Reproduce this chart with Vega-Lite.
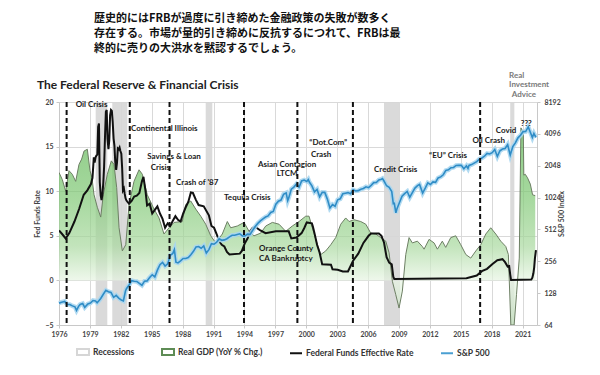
{
  "$schema": "https://vega.github.io/schema/vega-lite/v6.json",
  "background": "white",
  "padding": {"left": 33, "top": 12, "right": 5, "bottom": 5},
  "title": {
    "text": ["歴史的にはFRBが過度に引き締めた金融政策の失敗が数多く", "存在する。市場が量的引き締めに反抗するにつれて、FRBは最", "終的に売りの大洪水を黙認するでしょう。"],
    "anchor": "start", "frame": "group", "dx": 35, "offset": 18,
    "font": "Noto Sans CJK JP", "fontSize": 11, "fontWeight": "bold", "lineHeight": 15, "color": "#111111"
  },
  "datasets": {
    "rec": [{"t": 1979.56, "t2": 1980.69}, {"t": 1981.17, "t2": 1982.63}, {"t": 1990.24, "t2": 1990.88}, {"t": 2007.55, "t2": 2009.01}, {"t": 2019.8, "t2": 2020.2}],
    "crises": [{"t": 1976.74}, {"t": 1982.87}, {"t": 1986.73}, {"t": 1993.96}, {"t": 1999.14}, {"t": 2004.53}, {"t": 2016.88}],
    "gdp": [
      {"t": 1976.0, "v": 12.1}, {"t": 1976.32, "v": 11.3}, {"t": 1976.65, "v": 10.0}, {"t": 1976.97, "v": 12.3}, {"t": 1977.29, "v": 11.9}, {"t": 1977.62, "v": 11.1}, {"t": 1977.94, "v": 13.0}, {"t": 1978.2, "v": 13.6}, {"t": 1978.43, "v": 14.5}, {"t": 1978.75, "v": 14.7}, {"t": 1979.01, "v": 12.3}, {"t": 1979.2, "v": 11.5}, {"t": 1979.4, "v": 9.6}, {"t": 1979.72, "v": 8.2}, {"t": 1980.05, "v": 7.1}, {"t": 1980.3, "v": 9.6}, {"t": 1980.69, "v": 11.9}, {"t": 1981.08, "v": 13.4}, {"t": 1981.34, "v": 13.0}, {"t": 1981.6, "v": 10.4}, {"t": 1981.83, "v": 5.9}, {"t": 1982.15, "v": 3.3}, {"t": 1982.48, "v": 4.0}, {"t": 1982.8, "v": 8.5}, {"t": 1983.28, "v": 11.1}, {"t": 1983.77, "v": 12.4}, {"t": 1984.09, "v": 11.9}, {"t": 1984.57, "v": 9.6}, {"t": 1985.22, "v": 8.0}, {"t": 1985.71, "v": 7.0}, {"t": 1986.19, "v": 5.2}, {"t": 1986.68, "v": 5.9}, {"t": 1987.17, "v": 6.5}, {"t": 1987.97, "v": 6.6}, {"t": 1988.3, "v": 8.5}, {"t": 1988.79, "v": 8.9}, {"t": 1989.27, "v": 8.0}, {"t": 1989.76, "v": 7.2}, {"t": 1990.24, "v": 6.3}, {"t": 1990.73, "v": 5.0}, {"t": 1991.21, "v": 4.2}, {"t": 1991.85, "v": 5.2}, {"t": 1992.34, "v": 6.6}, {"t": 1992.67, "v": 5.9}, {"t": 1993.31, "v": 6.1}, {"t": 1993.96, "v": 6.5}, {"t": 1994.45, "v": 5.5}, {"t": 1994.93, "v": 5.0}, {"t": 1995.58, "v": 5.3}, {"t": 1996.07, "v": 6.1}, {"t": 1996.71, "v": 6.5}, {"t": 1997.36, "v": 6.3}, {"t": 1998.01, "v": 5.5}, {"t": 1998.65, "v": 6.1}, {"t": 1999.3, "v": 6.6}, {"t": 1999.95, "v": 7.2}, {"t": 2000.27, "v": 7.2}, {"t": 2000.59, "v": 5.9}, {"t": 2001.08, "v": 4.0}, {"t": 2001.41, "v": 2.9}, {"t": 2001.89, "v": 3.3}, {"t": 2002.38, "v": 4.0}, {"t": 2002.86, "v": 4.8}, {"t": 2003.35, "v": 6.3}, {"t": 2003.83, "v": 7.0}, {"t": 2004.16, "v": 6.6}, {"t": 2004.64, "v": 6.8}, {"t": 2005.29, "v": 6.6}, {"t": 2005.78, "v": 6.3}, {"t": 2006.26, "v": 5.3}, {"t": 2006.75, "v": 5.2}, {"t": 2007.23, "v": 4.8}, {"t": 2007.72, "v": 4.4}, {"t": 2008.04, "v": 3.1}, {"t": 2008.36, "v": -0.1}, {"t": 2008.69, "v": -1.6}, {"t": 2009.01, "v": -3.1}, {"t": 2009.33, "v": -1.2}, {"t": 2009.66, "v": 2.9}, {"t": 2009.98, "v": 4.8}, {"t": 2010.3, "v": 4.2}, {"t": 2010.79, "v": 4.4}, {"t": 2011.27, "v": 3.8}, {"t": 2011.44, "v": 3.5}, {"t": 2011.92, "v": 4.6}, {"t": 2012.41, "v": 4.2}, {"t": 2012.73, "v": 3.5}, {"t": 2013.21, "v": 4.4}, {"t": 2013.54, "v": 3.7}, {"t": 2014.03, "v": 4.8}, {"t": 2014.51, "v": 5.0}, {"t": 2015.0, "v": 4.0}, {"t": 2015.49, "v": 2.9}, {"t": 2015.97, "v": 2.5}, {"t": 2016.46, "v": 3.3}, {"t": 2016.94, "v": 4.0}, {"t": 2017.43, "v": 5.2}, {"t": 2017.91, "v": 5.9}, {"t": 2018.4, "v": 5.2}, {"t": 2018.88, "v": 4.4}, {"t": 2019.37, "v": 3.8}, {"t": 2019.62, "v": 2.9}, {"t": 2019.86, "v": -5.0}, {"t": 2020.18, "v": -5.0}, {"t": 2020.41, "v": -1.6}, {"t": 2020.68, "v": 2.5}, {"t": 2020.84, "v": 17.1}, {"t": 2021.07, "v": 16.6}, {"t": 2021.12, "v": 11.8}, {"t": 2021.26, "v": 11.9}, {"t": 2021.48, "v": 11.5}, {"t": 2021.75, "v": 10.8}, {"t": 2021.97, "v": 9.6}, {"t": 2022.23, "v": 9.5}
    ],
    "ffr": [
      {"t": 1976.0, "v": 5.6}, {"t": 1976.3, "v": 5.2}, {"t": 1976.65, "v": 4.7}, {"t": 1977.0, "v": 5.3}, {"t": 1977.5, "v": 6.6}, {"t": 1977.95, "v": 8.0}, {"t": 1978.4, "v": 9.6}, {"t": 1978.75, "v": 10.1}, {"t": 1979.1, "v": 10.8}, {"t": 1979.25, "v": 11.5}, {"t": 1979.38, "v": 13.8}, {"t": 1979.46, "v": 13.2}, {"t": 1979.55, "v": 13.8}, {"t": 1979.63, "v": 14.0}, {"t": 1979.72, "v": 14.1}, {"t": 1979.8, "v": 17.2}, {"t": 1979.88, "v": 17.6}, {"t": 1979.96, "v": 11.0}, {"t": 1980.05, "v": 9.5}, {"t": 1980.13, "v": 9.0}, {"t": 1980.21, "v": 9.6}, {"t": 1980.3, "v": 10.9}, {"t": 1980.38, "v": 12.8}, {"t": 1980.46, "v": 15.9}, {"t": 1980.55, "v": 18.9}, {"t": 1980.63, "v": 19.1}, {"t": 1980.71, "v": 15.9}, {"t": 1980.8, "v": 14.7}, {"t": 1980.88, "v": 15.7}, {"t": 1980.96, "v": 18.5}, {"t": 1981.05, "v": 19.1}, {"t": 1981.13, "v": 19.0}, {"t": 1981.21, "v": 17.8}, {"t": 1981.3, "v": 15.9}, {"t": 1981.38, "v": 15.1}, {"t": 1981.46, "v": 13.3}, {"t": 1981.55, "v": 12.4}, {"t": 1981.63, "v": 13.2}, {"t": 1981.71, "v": 14.8}, {"t": 1981.8, "v": 14.7}, {"t": 1981.88, "v": 14.9}, {"t": 1981.96, "v": 14.5}, {"t": 1982.05, "v": 14.2}, {"t": 1982.13, "v": 12.6}, {"t": 1982.21, "v": 10.1}, {"t": 1982.3, "v": 10.3}, {"t": 1982.38, "v": 9.7}, {"t": 1982.46, "v": 9.2}, {"t": 1982.55, "v": 8.95}, {"t": 1982.8, "v": 8.6}, {"t": 1983.05, "v": 8.9}, {"t": 1983.3, "v": 9.4}, {"t": 1983.55, "v": 9.5}, {"t": 1983.8, "v": 9.8}, {"t": 1984.05, "v": 11.1}, {"t": 1984.2, "v": 11.6}, {"t": 1984.4, "v": 10.0}, {"t": 1984.55, "v": 8.4}, {"t": 1984.8, "v": 8.6}, {"t": 1985.05, "v": 7.5}, {"t": 1985.3, "v": 7.9}, {"t": 1985.55, "v": 8.3}, {"t": 1985.8, "v": 7.5}, {"t": 1986.05, "v": 6.9}, {"t": 1986.3, "v": 5.9}, {"t": 1986.55, "v": 6.4}, {"t": 1986.8, "v": 6.1}, {"t": 1987.05, "v": 6.7}, {"t": 1987.3, "v": 7.2}, {"t": 1987.55, "v": 6.8}, {"t": 1987.8, "v": 6.6}, {"t": 1988.05, "v": 7.5}, {"t": 1988.3, "v": 8.2}, {"t": 1988.55, "v": 8.8}, {"t": 1988.8, "v": 9.85}, {"t": 1989.0, "v": 9.8}, {"t": 1989.3, "v": 9.0}, {"t": 1989.55, "v": 8.45}, {"t": 1990.05, "v": 8.3}, {"t": 1990.55, "v": 7.3}, {"t": 1990.8, "v": 6.1}, {"t": 1991.05, "v": 5.9}, {"t": 1991.3, "v": 5.2}, {"t": 1991.55, "v": 4.4}, {"t": 1991.8, "v": 4.0}, {"t": 1992.05, "v": 3.8}, {"t": 1992.3, "v": 3.2}, {"t": 1992.55, "v": 2.9}, {"t": 1993.55, "v": 3.0}, {"t": 1993.75, "v": 3.3}, {"t": 1994.05, "v": 4.2}, {"t": 1994.3, "v": 4.7}, {"t": 1994.55, "v": 5.5}, {"t": 1994.8, "v": 5.9}, {"t": 1995.05, "v": 6.0}, {"t": 1995.55, "v": 5.6}, {"t": 1996.05, "v": 5.3}, {"t": 1997.05, "v": 5.5}, {"t": 1998.3, "v": 5.5}, {"t": 1998.55, "v": 4.7}, {"t": 1999.05, "v": 4.8}, {"t": 1999.55, "v": 5.3}, {"t": 1999.8, "v": 5.85}, {"t": 2000.05, "v": 6.5}, {"t": 2000.55, "v": 6.4}, {"t": 2000.65, "v": 6.0}, {"t": 2000.8, "v": 5.3}, {"t": 2001.05, "v": 4.0}, {"t": 2001.3, "v": 3.1}, {"t": 2001.55, "v": 1.8}, {"t": 2002.4, "v": 1.75}, {"t": 2002.55, "v": 1.25}, {"t": 2003.05, "v": 1.2}, {"t": 2003.55, "v": 1.0}, {"t": 2004.05, "v": 1.0}, {"t": 2004.55, "v": 2.2}, {"t": 2005.05, "v": 3.0}, {"t": 2005.55, "v": 4.2}, {"t": 2006.05, "v": 5.0}, {"t": 2006.3, "v": 5.25}, {"t": 2007.05, "v": 5.25}, {"t": 2007.3, "v": 5.0}, {"t": 2007.55, "v": 4.25}, {"t": 2007.8, "v": 2.6}, {"t": 2008.05, "v": 2.0}, {"t": 2008.3, "v": 1.8}, {"t": 2008.45, "v": 0.4}, {"t": 2008.55, "v": 0.16}, {"t": 2015.55, "v": 0.24}, {"t": 2016.55, "v": 0.54}, {"t": 2017.05, "v": 1.04}, {"t": 2017.55, "v": 1.3}, {"t": 2018.05, "v": 1.82}, {"t": 2018.55, "v": 2.27}, {"t": 2019.05, "v": 2.38}, {"t": 2019.3, "v": 2.04}, {"t": 2019.55, "v": 1.55}, {"t": 2019.7, "v": 1.6}, {"t": 2019.8, "v": 0.65}, {"t": 2019.88, "v": 0.05}, {"t": 2021.85, "v": 0.1}, {"t": 2021.95, "v": 0.3}, {"t": 2022.05, "v": 0.8}, {"t": 2022.13, "v": 1.5}, {"t": 2022.2, "v": 2.5}, {"t": 2022.3, "v": 3.4}
    ],
    "spx": [
      {"t": 1976.0, "s": 103}, {"t": 1976.25, "s": 105}, {"t": 1976.55, "s": 107}, {"t": 1976.8, "s": 100}, {"t": 1977.05, "s": 100}, {"t": 1977.3, "s": 97}, {"t": 1977.55, "s": 95}, {"t": 1977.7, "s": 88}, {"t": 1977.9, "s": 96}, {"t": 1978.05, "s": 100}, {"t": 1978.3, "s": 102}, {"t": 1978.5, "s": 94}, {"t": 1978.8, "s": 101}, {"t": 1979.05, "s": 103}, {"t": 1979.3, "s": 109}, {"t": 1979.55, "s": 108}, {"t": 1979.7, "s": 104}, {"t": 1979.85, "s": 108}, {"t": 1980.05, "s": 114}, {"t": 1980.3, "s": 125}, {"t": 1980.55, "s": 136}, {"t": 1980.8, "s": 132}, {"t": 1981.05, "s": 130}, {"t": 1981.3, "s": 117}, {"t": 1981.55, "s": 122}, {"t": 1981.8, "s": 115}, {"t": 1982.05, "s": 110}, {"t": 1982.25, "s": 108}, {"t": 1982.45, "s": 134}, {"t": 1982.55, "s": 141}, {"t": 1982.8, "s": 153}, {"t": 1983.05, "s": 168}, {"t": 1983.3, "s": 166}, {"t": 1983.55, "s": 165}, {"t": 1983.8, "s": 158}, {"t": 1984.05, "s": 152}, {"t": 1984.3, "s": 166}, {"t": 1984.55, "s": 167}, {"t": 1984.8, "s": 180}, {"t": 1985.05, "s": 191}, {"t": 1985.3, "s": 182}, {"t": 1985.55, "s": 211}, {"t": 1985.8, "s": 238}, {"t": 1986.05, "s": 250}, {"t": 1986.3, "s": 231}, {"t": 1986.55, "s": 242}, {"t": 1986.8, "s": 291}, {"t": 1987.05, "s": 304}, {"t": 1987.2, "s": 330}, {"t": 1987.35, "s": 251}, {"t": 1987.55, "s": 247}, {"t": 1987.8, "s": 258}, {"t": 1988.05, "s": 272}, {"t": 1988.3, "s": 272}, {"t": 1988.55, "s": 278}, {"t": 1988.8, "s": 295}, {"t": 1989.05, "s": 318}, {"t": 1989.3, "s": 349}, {"t": 1989.55, "s": 353}, {"t": 1989.8, "s": 340}, {"t": 1990.05, "s": 358}, {"t": 1990.3, "s": 306}, {"t": 1990.55, "s": 330}, {"t": 1990.8, "s": 375}, {"t": 1991.05, "s": 371}, {"t": 1991.3, "s": 387}, {"t": 1991.55, "s": 417}, {"t": 1991.8, "s": 404}, {"t": 1992.05, "s": 408}, {"t": 1992.3, "s": 418}, {"t": 1992.55, "s": 436}, {"t": 1992.8, "s": 451}, {"t": 1993.05, "s": 451}, {"t": 1993.3, "s": 459}, {"t": 1993.55, "s": 466}, {"t": 1993.8, "s": 445}, {"t": 1994.05, "s": 444}, {"t": 1994.3, "s": 462}, {"t": 1994.55, "s": 459}, {"t": 1994.8, "s": 501}, {"t": 1995.05, "s": 545}, {"t": 1995.3, "s": 584}, {"t": 1995.55, "s": 616}, {"t": 1995.8, "s": 645}, {"t": 1996.05, "s": 670}, {"t": 1996.3, "s": 687}, {"t": 1996.55, "s": 741}, {"t": 1996.8, "s": 757}, {"t": 1997.05, "s": 885}, {"t": 1997.3, "s": 947}, {"t": 1997.55, "s": 970}, {"t": 1997.8, "s": 1101}, {"t": 1998.05, "s": 1134}, {"t": 1998.2, "s": 957}, {"t": 1998.3, "s": 1017}, {"t": 1998.55, "s": 1229}, {"t": 1998.8, "s": 1286}, {"t": 1999.05, "s": 1373}, {"t": 1999.3, "s": 1283}, {"t": 1999.55, "s": 1469}, {"t": 1999.8, "s": 1499}, {"t": 2000.05, "s": 1455}, {"t": 2000.2, "s": 1518}, {"t": 2000.3, "s": 1436}, {"t": 2000.55, "s": 1320}, {"t": 2000.8, "s": 1160}, {"t": 2001.05, "s": 1224}, {"t": 2001.3, "s": 1040}, {"t": 2001.55, "s": 1148}, {"t": 2001.8, "s": 1147}, {"t": 2002.05, "s": 990}, {"t": 2002.3, "s": 815}, {"t": 2002.55, "s": 880}, {"t": 2002.8, "s": 848}, {"t": 2003.05, "s": 975}, {"t": 2003.3, "s": 996}, {"t": 2003.55, "s": 1112}, {"t": 2003.8, "s": 1126}, {"t": 2004.05, "s": 1141}, {"t": 2004.3, "s": 1114}, {"t": 2004.55, "s": 1212}, {"t": 2004.8, "s": 1181}, {"t": 2005.05, "s": 1191}, {"t": 2005.3, "s": 1229}, {"t": 2005.55, "s": 1248}, {"t": 2005.8, "s": 1295}, {"t": 2006.05, "s": 1270}, {"t": 2006.3, "s": 1336}, {"t": 2006.55, "s": 1418}, {"t": 2006.8, "s": 1421}, {"t": 2007.05, "s": 1503}, {"t": 2007.3, "s": 1527}, {"t": 2007.4, "s": 1549}, {"t": 2007.55, "s": 1468}, {"t": 2007.8, "s": 1323}, {"t": 2008.05, "s": 1280}, {"t": 2008.3, "s": 1166}, {"t": 2008.45, "s": 896}, {"t": 2008.55, "s": 903}, {"t": 2008.7, "s": 735}, {"t": 2008.8, "s": 798}, {"t": 2009.05, "s": 919}, {"t": 2009.3, "s": 1057}, {"t": 2009.55, "s": 1115}, {"t": 2009.8, "s": 1169}, {"t": 2010.05, "s": 1031}, {"t": 2010.3, "s": 1141}, {"t": 2010.55, "s": 1258}, {"t": 2010.8, "s": 1326}, {"t": 2011.0, "s": 1364}, {"t": 2011.3, "s": 1131}, {"t": 2011.55, "s": 1258}, {"t": 2011.8, "s": 1408}, {"t": 2012.05, "s": 1362}, {"t": 2012.3, "s": 1441}, {"t": 2012.55, "s": 1426}, {"t": 2012.8, "s": 1569}, {"t": 2013.05, "s": 1606}, {"t": 2013.3, "s": 1682}, {"t": 2013.55, "s": 1848}, {"t": 2013.8, "s": 1872}, {"t": 2014.05, "s": 1960}, {"t": 2014.3, "s": 1972}, {"t": 2014.55, "s": 2059}, {"t": 2014.8, "s": 2068}, {"t": 2015.05, "s": 2063}, {"t": 2015.3, "s": 1920}, {"t": 2015.55, "s": 2044}, {"t": 2015.7, "s": 1932}, {"t": 2015.8, "s": 2060}, {"t": 2016.05, "s": 2099}, {"t": 2016.3, "s": 2168}, {"t": 2016.55, "s": 2239}, {"t": 2016.8, "s": 2363}, {"t": 2017.05, "s": 2423}, {"t": 2017.3, "s": 2519}, {"t": 2017.55, "s": 2674}, {"t": 2017.8, "s": 2641}, {"t": 2018.05, "s": 2718}, {"t": 2018.3, "s": 2914}, {"t": 2018.55, "s": 2507}, {"t": 2018.8, "s": 2834}, {"t": 2019.05, "s": 2942}, {"t": 2019.3, "s": 2977}, {"t": 2019.55, "s": 3231}, {"t": 2019.8, "s": 2585}, {"t": 2020.05, "s": 3100}, {"t": 2020.3, "s": 3363}, {"t": 2020.55, "s": 3756}, {"t": 2020.8, "s": 3973}, {"t": 2021.05, "s": 4298}, {"t": 2021.3, "s": 4308}, {"t": 2021.55, "s": 4766}, {"t": 2021.8, "s": 4132}, {"t": 2021.95, "s": 3785}, {"t": 2022.1, "s": 4130}, {"t": 2022.2, "s": 3950}, {"t": 2022.3, "s": 3800}
    ],
    "notesL": [
      {"label": "Oil Crisis", "t": 1977.62, "v": 19.65},
      {"label": "Continental Illinois", "t": 1982.99, "v": 17.0},
      {"label": "Savings & Loan", "t": 1984.57, "v": 13.8},
      {"label": "Crisis", "t": 1984.9, "v": 12.6},
      {"label": "Crash of '87", "t": 1987.36, "v": 10.9},
      {"label": "Tequila Crisis", "t": 1992.02, "v": 9.2},
      {"label": "Orange County", "t": 1995.42, "v": 3.5},
      {"label": "CA Bankruptcy", "t": 1995.42, "v": 2.35},
      {"label": "“Dot.Com”", "t": 2000.3, "v": 15.4},
      {"label": "Crash", "t": 2000.45, "v": 14.1},
      {"label": "Credit Crisis", "t": 2006.58, "v": 12.4},
      {"label": "“EU” Crisis", "t": 2011.92, "v": 13.9},
      {"label": "Oil Crash", "t": 2016.13, "v": 15.6},
      {"label": "Covid", "t": 2018.4, "v": 16.7},
      {"label": "???", "t": 2020.82, "v": 17.5}
    ],
    "notesC": [
      {"label": "Asian Contagion", "t": 1998.14, "v": 12.9},
      {"label": "LTCM", "t": 1998.14, "v": 11.9}
    ],
    "brand": [
      {"label": "Real", "t": 2019.69, "v": 22.95},
      {"label": "Investment", "t": 2019.69, "v": 21.85},
      {"label": "Advice", "t": 2019.95, "v": 20.75}
    ],
    "legend": [
      {"series": "Recessions"}, {"series": "Real GDP (YoY % Chg.)"}, {"series": "Federal Funds Effective Rate"}, {"series": "S&P 500"}
    ]
  },
  "vconcat": [
    {
      "title": {"text": "The Federal Reserve & Financial Crisis", "anchor": "start", "frame": "bounds", "dx": 3, "offset": -20, "font": "Lato", "fontSize": 12, "fontWeight": "bold", "color": "#222222"},
      "width": 478,
      "height": 223,
      "encoding": {
        "x": {
          "field": "t", "type": "quantitative",
          "scale": {"domain": [1976, 2022.4], "nice": false, "zero": false},
          "axis": {"values": [1976, 1979, 1982, 1985, 1988, 1991, 1994, 1997, 2000, 2003, 2006, 2009, 2012, 2015, 2018, 2021], "format": "d", "title": null, "grid": true, "gridColor": "#d9d9d9", "labelFlush": false, "labelOverlap": false, "labelFontSize": 7, "labelFontWeight": "bold", "labelColor": "#444444", "tickSize": 3, "labelPadding": 2, "domainColor": "#c8c8c8", "tickColor": "#c8c8c8"}
        }
      },
      "layer": [
        {
          "layer": [
            {"data": {"name": "rec"}, "mark": {"type": "rect", "color": "#d6d6d6", "opacity": 0.9}, "encoding": {"x2": {"field": "t2"}}},
            {
              "data": {"name": "gdp"},
              "mark": {"type": "area", "clip": true, "color": {"gradient": "linear", "x1": 0, "y1": 0, "x2": 0, "y2": 1, "stops": [{"offset": 0, "color": "#5db553"}, {"offset": 0.35, "color": "#7fc874"}, {"offset": 0.6, "color": "#a9d99f"}, {"offset": 0.776, "color": "#e8f5e4"}, {"offset": 1, "color": "#c2e3bb"}]}, "line": {"color": "#6d7f64", "strokeWidth": 1}},
              "encoding": {
                "y": {"field": "v", "type": "quantitative", "scale": {"domain": [-5, 20], "nice": false, "zero": false}, "axis": {"values": [-5, 0, 5, 10, 15, 20], "title": "Fed Funds Rate", "grid": true, "gridColor": "#d9d9d9", "labelFontSize": 7, "labelFontWeight": "bold", "labelColor": "#444444", "titleFontSize": 7, "titleFontWeight": "bold", "titleColor": "#444444", "titlePadding": 4, "tickSize": 3, "labelPadding": 3, "domainColor": "#c8c8c8", "tickColor": "#c8c8c8"}},
                "y2": {"datum": 0}
              }
            },
            {"data": {"name": "ffr"}, "mark": {"type": "line", "color": "#111111", "strokeWidth": 2, "clip": true}, "encoding": {"y": {"field": "v", "type": "quantitative", "scale": {"domain": [-5, 20], "nice": false, "zero": false}, "axis": {"values": [-5, 0, 5, 10, 15, 20], "title": "Fed Funds Rate", "grid": true, "gridColor": "#d9d9d9", "labelFontSize": 7, "labelFontWeight": "bold", "labelColor": "#444444", "titleFontSize": 7, "titleFontWeight": "bold", "titleColor": "#444444", "titlePadding": 4, "tickSize": 3, "labelPadding": 3, "domainColor": "#c8c8c8", "tickColor": "#c8c8c8"}}}},
            {
              "data": {"name": "legend"},
              "mark": {"type": "point", "filled": true, "opacity": 0},
              "encoding": {
                "color": {"field": "series", "type": "nominal", "scale": {"domain": ["Recessions", "Real GDP (YoY % Chg.)", "Federal Funds Effective Rate", "S&P 500"], "range": ["#d6d6d6", "#b9e0b0", "#111111", "#5aa9d8"]},
                  "legend": {"title": null, "orient": "none", "legendX": 17, "legendY": 243, "direction": "horizontal", "symbolSize": 144, "symbolStrokeWidth": 2, "symbolOpacity": 1, "labelFontSize": 8.5, "labelFont": "Lato", "labelFontWeight": "bold", "labelColor": "#333333", "columnPadding": 23, "labelOffset": 3}},
                "shape": {"field": "series", "type": "nominal", "scale": {"domain": ["Recessions", "Real GDP (YoY % Chg.)", "Federal Funds Effective Rate", "S&P 500"], "range": ["M-1,-0.5H1V0.5H-1Z", "M-1,-0.5H1V0.5H-1Z", "M-1,0H1", "M-1,0H1"]}},
                "stroke": {"field": "series", "type": "nominal", "scale": {"domain": ["Recessions", "Real GDP (YoY % Chg.)", "Federal Funds Effective Rate", "S&P 500"], "range": ["#d6d6d6", "#5e8c55", "#111111", "#4a9fd2"]}}
              }
            }
          ]
        },
        {
          "layer": [
            {"data": {"name": "spx"}, "mark": {"type": "line", "color": "#a9d6f0", "strokeWidth": 4.5, "opacity": 0.9}, "encoding": {"y": {"field": "s", "type": "quantitative", "scale": {"type": "log", "base": 2, "domain": [64, 8192], "nice": false}, "axis": {"orient": "right", "values": [64, 128, 256, 512, 1024, 2048, 4096, 8192], "format": "d", "title": "S&P 500 Index", "titleAngle": 270, "grid": false, "labelFontSize": 7, "labelFontWeight": "bold", "labelColor": "#444444", "titleFontSize": 7, "titleFontWeight": "bold", "titleColor": "#444444", "titlePadding": 4, "tickSize": 3, "labelPadding": 4, "domainColor": "#c8c8c8", "tickColor": "#c8c8c8"}}}},
            {"data": {"name": "spx"}, "mark": {"type": "line", "color": "#2f8cc6", "strokeWidth": 1.6}, "encoding": {"y": {"field": "s", "type": "quantitative", "scale": {"type": "log", "base": 2, "domain": [64, 8192], "nice": false}, "axis": {"orient": "right", "values": [64, 128, 256, 512, 1024, 2048, 4096, 8192], "format": "d", "title": "S&P 500 Index", "titleAngle": 270, "grid": false, "labelFontSize": 7, "labelFontWeight": "bold", "labelColor": "#444444", "titleFontSize": 7, "titleFontWeight": "bold", "titleColor": "#444444", "titlePadding": 4, "tickSize": 3, "labelPadding": 4, "domainColor": "#c8c8c8", "tickColor": "#c8c8c8"}}}}
          ]
        },
        {
          "layer": [
            {"data": {"name": "crises"}, "mark": {"type": "rule", "color": "#111111", "strokeWidth": 2, "strokeDash": [5, 3]}, "encoding": {}},
            {"data": {"name": "notesL"}, "mark": {"type": "text", "align": "left", "baseline": "middle", "font": "Lato", "fontSize": 8, "fontWeight": "bold", "color": "#1a1a1a"}, "encoding": {"y": {"field": "v", "type": "quantitative", "scale": {"domain": [-5, 20], "nice": false, "zero": false}, "axis": null}, "text": {"field": "label"}}},
            {"data": {"name": "notesC"}, "mark": {"type": "text", "align": "center", "baseline": "middle", "font": "Lato", "fontSize": 8, "fontWeight": "bold", "color": "#1a1a1a"}, "encoding": {"y": {"field": "v", "type": "quantitative", "scale": {"domain": [-5, 20], "nice": false, "zero": false}, "axis": null}, "text": {"field": "label"}}},
            {"data": {"name": "brand"}, "mark": {"type": "text", "align": "left", "baseline": "middle", "font": "Lato", "fontSize": 8, "fontWeight": "bold", "color": "#7a7a7a"}, "encoding": {"y": {"field": "v", "type": "quantitative", "scale": {"domain": [-5, 20], "nice": false, "zero": false}, "axis": null}, "text": {"field": "label"}}}
          ]
        }
      ],
      "resolve": {"scale": {"y": "independent"}}
    }
  ],
  "config": {"font": "Lato", "view": {"stroke": null}}
}
